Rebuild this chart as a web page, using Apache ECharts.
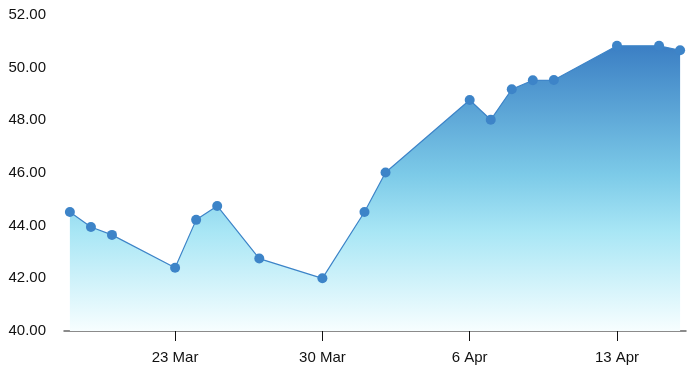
<!DOCTYPE html>
<html>
<head>
<meta charset="utf-8">
<script src="https://cdn.jsdelivr.net/npm/echarts@6/dist/echarts.min.js"></script>
<style>
html,body{margin:0;padding:0;background:#fff;}
#chart{width:689px;height:377px;}
</style>
</head>
<body>
<div id="chart"></div>
<script>
const dates = ['2015-03-18','2015-03-19','2015-03-20','2015-03-23','2015-03-24','2015-03-25','2015-03-27','2015-03-30','2015-04-01','2015-04-02','2015-04-06','2015-04-07','2015-04-08','2015-04-09','2015-04-10','2015-04-13','2015-04-15','2015-04-16'];
const values = [44.52, 43.95, 43.65, 42.40, 44.22, 44.75, 42.75, 42.00, 44.52, 46.02, 48.77, 48.02, 49.18, 49.52, 49.53, 50.83, 50.83, 50.66];
const tickDates = ['2015-03-23','2015-03-30','2015-04-06','2015-04-13'];
const yTicks = [40, 42, 44, 46, 48, 50, 52];

const MONTHS = ['Jan','Feb','Mar','Apr','May','Jun','Jul','Aug','Sep','Oct','Nov','Dec'];
const BASE = Date.UTC(2015, 2, 23);
function toDay(s){ const p = s.split('-').map(Number); return (Date.UTC(p[0], p[1]-1, p[2]) - BASE) / 86400000; }
function fmtDay(d){ const dt = new Date(BASE + Math.round(d) * 86400000); return dt.getUTCDate() + ' ' + MONTHS[dt.getUTCMonth()]; }

const xs = dates.map(toDay);
const pad = 0.28;
const chart = echarts.init(document.getElementById('chart'), null, {renderer:'canvas'});
chart.setOption({
  animation: false,
  grid: {left: 64, right: 3, top: 15, bottom: 46, containLabel: false},
  xAxis: {
    type: 'value',
    min: xs[0] - pad,
    max: xs[xs.length-1] + pad,
    splitLine: {show: false},
    axisLine: {show: true, lineStyle: {color: '#666', width: 1.5}},
    axisTick: {show: true, length: 10, lineStyle: {color: '#111'}, customValues: tickDates.map(toDay)},
    axisLabel: {customValues: tickDates.map(toDay), formatter: fmtDay, color: '#111', fontSize: 15, fontFamily: 'Liberation Sans, Arial, sans-serif', margin: 19}
  },
  yAxis: {
    type: 'value',
    min: yTicks[0],
    max: yTicks[yTicks.length-1],
    interval: 2,
    splitLine: {show: false},
    axisLine: {show: false},
    axisTick: {show: false},
    axisLabel: {formatter: v => v.toFixed(2), color: '#111', fontSize: 15, fontFamily: 'Liberation Sans, Arial, sans-serif', margin: 18}
  },
  series: [{
    type: 'line',
    data: xs.map((x, i) => [x, values[i]]),
    symbol: 'circle',
    symbolSize: 10,
    itemStyle: {color: '#3d84c8'},
    lineStyle: {color: '#3d84c8', width: 1.2},
    areaStyle: {
      origin: 'start',
      opacity: 1,
      color: new echarts.graphic.LinearGradient(0, 0, 0, 1, [
        {offset: 0, color: '#3b7fc4'},
        {offset: 0.45, color: '#7ccae8'},
        {offset: 0.65, color: '#a8e6f5'},
        {offset: 1, color: '#f7feff'}
      ])
    }
  }]
});
</script>
</body>
</html>
